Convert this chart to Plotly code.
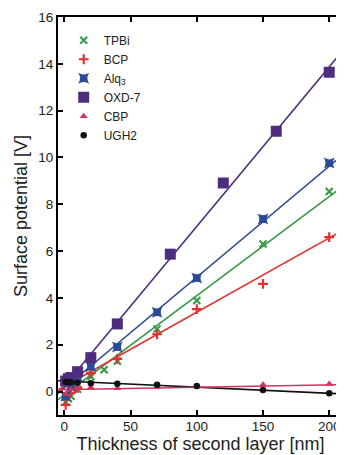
import plotly.graph_objects as go

# ---- data ----
tpbi_x = [1, 3, 5, 10, 20, 30, 40, 70, 100, 150, 200]
tpbi_y = [-0.45, -0.3, -0.2, 0.1, 0.64, 0.93, 1.3, 2.67, 3.89, 6.30, 8.55]

bcp_x = [1, 5, 10, 20, 40, 70, 100, 150, 200]
bcp_y = [-0.57, -0.05, 0.15, 0.8, 1.4, 2.45, 3.52, 4.6, 6.6]

alq3_x = [1, 5, 10, 20, 40, 70, 100, 150, 200]
alq3_y = [-0.2, 0.2, 0.6, 1.07, 1.9, 3.39, 4.85, 7.37, 9.76]

oxd7_x = [1, 3, 5, 10, 20, 40, 80, 120, 160, 200]
oxd7_y = [0.45, 0.55, 0.6, 0.85, 1.45, 2.89, 5.87, 8.91, 11.12, 13.64]

cbp_x = [1, 5, 10, 20, 40, 70, 100, 150, 200]
cbp_y = [-0.1, 0.1, 0.15, 0.17, 0.14, 0.2, 0.22, 0.29, 0.32]

ugh2_x = [1, 3, 5, 10, 20, 40, 70, 100, 150, 200]
ugh2_y = [0.42, 0.4, 0.4, 0.38, 0.36, 0.33, 0.29, 0.24, 0.07, -0.07]

# linear-fit lines (end points)
fit_x = [-4.8, 210.4]
fit_oxd7 = [-0.08, 14.58]
fit_alq3 = [-0.08, 10.12]
fit_tpbi = [-0.34, 8.77]
fit_bcp = [0.07, 6.89]
fit_cbp = [0.08, 0.30]
fit_ugh2 = [0.46, -0.10]

x_ticks = [0, 50, 100, 150, 200]
y_ticks = [0, 2, 4, 6, 8, 10, 12, 14, 16]

# ---- styles ----
GREEN = "#3b9a4b"
RED = "#e3302f"
BLUE = "#2c4b96"
PURPLE = "#4e2d7f"
CRIMSON = "#d8305c"
BLACK = "#111111"
FONT = "Liberation Sans"

fig = go.Figure()

for fy, col in [(fit_oxd7, PURPLE), (fit_alq3, BLUE), (fit_tpbi, GREEN),
                (fit_bcp, RED), (fit_ugh2, BLACK), (fit_cbp, CRIMSON)]:
    fig.add_trace(go.Scatter(x=fit_x, y=fy, mode="lines", showlegend=False,
                             line=dict(color=col, width=1.6), hoverinfo="skip"))

series = [
    ("TPBi", tpbi_x, tpbi_y, GREEN, "x-thin", 7, 2.2),
    ("BCP", bcp_x, bcp_y, RED, "cross-thin", 7, 2.2),
    ("Alq<sub>3</sub>", alq3_x, alq3_y, BLUE, "star-square", 10, 0),
    ("OXD-7", oxd7_x, oxd7_y, PURPLE, "square", 11, 0),
    ("CBP", cbp_x, cbp_y, CRIMSON, "triangle-up", 7, 0),
    ("UGH2", ugh2_x, ugh2_y, BLACK, "circle", 6.5, 0),
]
for name, xs, ys, col, sym, size, lw in series:
    fig.add_trace(go.Scatter(
        x=xs, y=ys, mode="markers", name=name,
        marker=dict(symbol=sym, size=size, color=col,
                    line=dict(color=col, width=lw)),
    ))

axis_common = dict(
    showline=True, linecolor="black", linewidth=2, mirror="allticks",
    ticks="inside", ticklen=5, tickwidth=1.5, tickcolor="black",
    showgrid=False, zeroline=False,
    tickfont=dict(family=FONT, size=13.5, color="#222"),
)

# page has an 8px body margin, so the figure is 8px smaller than the window
fig.update_layout(
    width=336, height=447,
    margin=dict(l=50, r=1, t=9, b=40),
    paper_bgcolor="white", plot_bgcolor="white",
    font=dict(family=FONT, color="#222"),
    xaxis=dict(range=[-4.8, 210.4], tickvals=x_ticks, ticklabelstandoff=-2,
               title=dict(text="Thickness of second layer [nm]",
                          font=dict(family=FONT, size=18), standoff=4),
               automargin=False, **axis_common),
    yaxis=dict(range=[-1.0, 16], tickvals=y_ticks,
               title=dict(text="Surface potential [V]",
                          font=dict(family=FONT, size=18), standoff=6),
               automargin=False, **axis_common),
    legend=dict(x=0.02, y=0.978, xanchor="left", yanchor="top",
                bgcolor="rgba(0,0,0,0)", font=dict(family=FONT, size=12),
                itemwidth=30, tracegroupgap=0),
    showlegend=True,
)

fig.write_html("out.html")
